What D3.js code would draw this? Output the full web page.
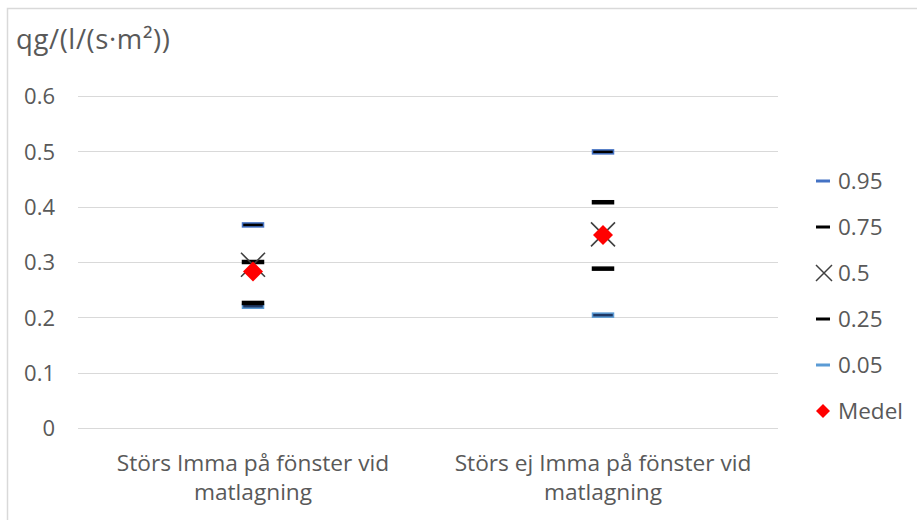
<!DOCTYPE html>
<html><head><meta charset="utf-8">
<script src="https://cdn.jsdelivr.net/npm/d3@7"></script>
<style>body{margin:0;background:#fff}svg{display:block}text{font-family:"Open Sans",sans-serif;fill:#595959}</style>
</head><body><svg id="c" width="917" height="520"></svg>
<script>
const categories = [["Störs Imma på fönster vid","matlagning"],["Störs ej Imma på fönster vid","matlagning"]];
const p95 = [0.367, 0.499];
const p75 = [0.300, 0.408];
const p50 = [0.295, 0.350];
const p25 = [0.226, 0.288];
const p05 = [0.220, 0.204];
const medel = [0.283, 0.349];
const yTicks = [0, 0.1, 0.2, 0.3, 0.4, 0.5, 0.6];
const yTitle = "qg/(l/(s·m²))";
const legendNames = ["0.95","0.75","0.5","0.25","0.05","Medel"];

const svg = d3.select("#c");
svg.append("rect").attr("x",7.5).attr("y",8.5).attr("width",920).attr("height",530)
  .attr("fill","none").attr("stroke","#d9d9d9").attr("stroke-width",1.5);

const x = d3.scaleBand().domain(d3.range(categories.length)).range([78,778]);
const y = d3.scaleLinear().domain([0,0.6]).range([428,96]);

const g = svg.append("g");
g.selectAll("line.grid").data(yTicks).join("line")
  .attr("x1",78).attr("x2",778).attr("y1",d=>Math.round(y(d))+0.5).attr("y2",d=>Math.round(y(d))+0.5)
  .attr("stroke","#d9d9d9").attr("stroke-width",1);
const yAxis = d3.axisLeft(y).tickValues(yTicks).tickSize(0).tickPadding(0).tickFormat(d=>d3.format("")(d));
const ya = svg.append("g").attr("transform","translate(55,0)").call(yAxis);
ya.select(".domain").remove();
ya.selectAll("text").style("font-family","'Open Sans',sans-serif").style("font-size","22px").attr("fill","#595959").attr("dy","0.35em");

svg.append("text").attr("x",16).attr("y",49).style("font-size","27.5px").style("letter-spacing","0.6px").text(yTitle);

const cl = svg.append("g").selectAll("text").data(categories).join("text")
  .attr("x",(d,i)=>x(i)+x.bandwidth()/2).attr("text-anchor","middle").style("font-size","22.7px");
cl.selectAll("tspan").data(d=>d).join("tspan")
  .attr("x",function(){return this.parentNode.getAttribute("x");})
  .attr("y",(d,i)=>471+i*29).text(d=>d);

const cx = i => x(i)+x.bandwidth()/2;
function dash(sel, data, fill, stroke, w, h){
  sel.selectAll(null).data(data).join("rect")
    .attr("x",(d,i)=>cx(i)-w/2).attr("y",d=>y(d)-h/2).attr("width",w).attr("height",h)
    .attr("fill",fill).attr("stroke",stroke).attr("stroke-width",1.5);
}
const m = svg.append("g");
dash(m.append("g"), p05, "#1f3864", "#5b9bd5", 21, 4);
dash(m.append("g"), p95, "#000", "#4472c4", 21, 4);
dash(m.append("g"), p25, "#000", "#000", 21, 3);
dash(m.append("g"), p75, "#000", "#000", 21, 3);
m.append("g").selectAll("path").data(p50).join("path")
  .attr("transform",(d,i)=>`translate(${cx(i)},${y(d)})`)
  .attr("d","M-12,-12L12,12M-12,12L12,-12").attr("stroke","#404040").attr("stroke-width",1.6).attr("fill","none");
m.append("g").selectAll("path").data(medel).join("path")
  .attr("transform",(d,i)=>`translate(${cx(i)},${y(d)})`)
  .attr("d","M0,-10L10,0L0,10L-10,0Z").attr("fill","#ff0000");

const ly = d3.scalePoint().domain(legendNames).range([181,411]);
const lg = svg.append("g");
const lItems = lg.selectAll("g").data(legendNames).join("g").attr("transform",d=>`translate(0,${ly(d)})`);
lItems.append("text").attr("x",838).attr("dy","0.35em").style("font-size","22.5px").text(d=>d);
lItems.each(function(d,i){
  const s = d3.select(this);
  if(i===0) s.append("rect").attr("x",816).attr("y",-1.5).attr("width",14).attr("height",3).attr("fill","#4472c4");
  if(i===1||i===3) s.append("rect").attr("x",816).attr("y",-1.5).attr("width",14).attr("height",3).attr("fill","#000");
  if(i===4) s.append("rect").attr("x",816).attr("y",-1.5).attr("width",14).attr("height",3).attr("fill","#5b9bd5");
  if(i===2) s.append("path").attr("d","M816,-8L832,8M816,8L832,-8").attr("stroke","#404040").attr("stroke-width",1.5);
  if(i===5) s.append("path").attr("d","M823,-7L830,0L823,7L816,0Z").attr("fill","#ff0000");
});
</script></body></html>
